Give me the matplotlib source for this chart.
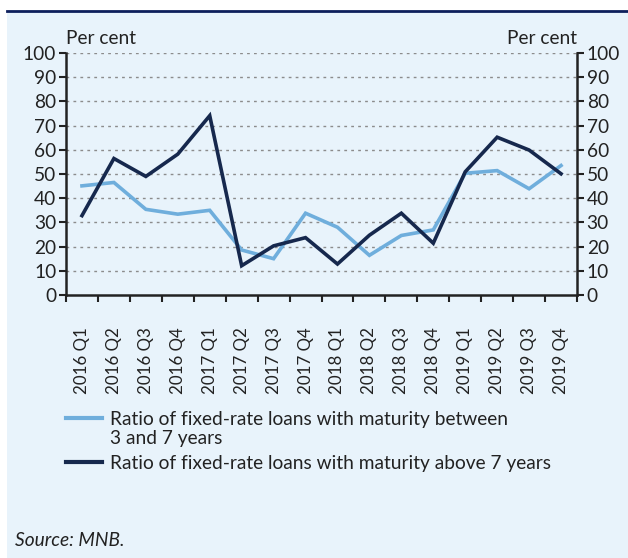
import matplotlib
matplotlib.use("Agg")
import matplotlib.pyplot as plt
from matplotlib.patches import Rectangle
from matplotlib.lines import Line2D

categories = ["2016 Q1", "2016 Q2", "2016 Q3", "2016 Q4",
              "2017 Q1", "2017 Q2", "2017 Q3", "2017 Q4",
              "2018 Q1", "2018 Q2", "2018 Q3", "2018 Q4",
              "2019 Q1", "2019 Q2", "2019 Q3", "2019 Q4"]
ratio_3_7 = [45.1, 46.5, 35.4, 33.4, 35.0, 18.6, 15.0, 33.8,
             28.0, 16.4, 24.6, 26.9, 50.3, 51.4, 43.9, 53.5]
ratio_above_7 = [32.8, 56.4, 49.0, 58.2, 74.1, 12.1, 20.3, 23.7,
                 12.8, 24.7, 33.8, 21.4, 50.9, 65.2, 59.9, 50.1]
label_3_7 = "Ratio of fixed-rate loans with maturity between\n3 and 7 years"
label_above_7 = "Ratio of fixed-rate loans with maturity above 7 years"
yticks = list(range(0, 101, 10))

BG = "#E8F3FB"
LIGHT = "#6FAEDC"
DARK = "#16284D"
TXT = "#222222"
FONT = "Lato"
FS = 13.8
FS_X = 12.2

W, H = 628, 558
fig = plt.figure(figsize=(W / 100, H / 100), dpi=100)
fig.patch.set_facecolor("white")

# background panel
fig.patches.append(Rectangle((7 / W, 0), 1 - 7 / W, 1 - 12 / H, transform=fig.transFigure,
                             facecolor=BG, edgecolor="none", zorder=-10))
# top navy rule
fig.lines.append(Line2D([7 / W, 1], [1 - 11 / H, 1 - 11 / H], transform=fig.transFigure,
                        color="#0D1F5C", linewidth=2, zorder=-5))

l, r, t, b = 66, 577, 53, 295
ax = fig.add_axes([l / W, 1 - b / H, (r - l) / W, (b - t) / H])
ax.set_zorder(5)
ax.set_facecolor("none")

x = list(range(len(categories)))
ax.plot(x, ratio_3_7, color=LIGHT, linewidth=2.6, solid_joinstyle="miter", zorder=3)
ax.plot(x, ratio_above_7, color=DARK, linewidth=2.6, solid_joinstyle="miter", zorder=4)

ax.set_xlim(-0.5, len(categories) - 0.5)
ax.set_ylim(0, 100)
ax.set_yticks(yticks)
for v in yticks[1:]:
    ax.axhline(v, color="#8C8C8C", linewidth=1.0, linestyle=(0, (2, 3)), zorder=1)

ax.set_xticks([i - 0.5 for i in range(len(categories) + 1)])
ax.set_xticklabels([])
ax.set_xticks(x, minor=True)
ax.set_xticklabels(categories, minor=True, rotation=90, fontsize=FS_X, family=FONT, color=TXT)
ax.tick_params(axis="x", which="major", direction="out", length=5, width=1.5, color=TXT)
ax.tick_params(axis="x", which="minor", length=0, pad=23)

ax.tick_params(axis="y", which="major", direction="out", length=5, width=1.5, color=TXT,
               labelsize=FS, labelcolor=TXT, left=True, right=True, labelleft=True, labelright=True,
               pad=2)
for lab in ax.get_yticklabels():
    lab.set_family(FONT)

for s in ["left", "right", "bottom"]:
    ax.spines[s].set_color(TXT)
    ax.spines[s].set_linewidth(1.8)
ax.spines["top"].set_visible(False)

fig.text(66 / W, 1 - 38 / H, "Per cent", fontsize=FS, family=FONT, color=TXT, ha="left", va="center")
fig.text(577 / W, 1 - 38 / H, "Per cent", fontsize=FS, family=FONT, color=TXT, ha="right", va="center")

# legend
for y_pix, col, lab in [(418, LIGHT, label_3_7), (462, DARK, label_above_7)]:
    fig.lines.append(Line2D([66 / W, 102 / W], [1 - y_pix / H, 1 - y_pix / H], transform=fig.transFigure,
                            color=col, linewidth=3))
    fig.text(110 / W, 1 - (y_pix - 7) / H, lab, fontsize=FS, family=FONT, color=TXT, ha="left", va="top",
             linespacing=1.15)

fig.text(15 / W, 1 - 540 / H, "Source: MNB.", fontsize=FS, family=FONT, style="italic", color=TXT,
         ha="left", va="center")

fig.savefig("out.png", dpi=100)
